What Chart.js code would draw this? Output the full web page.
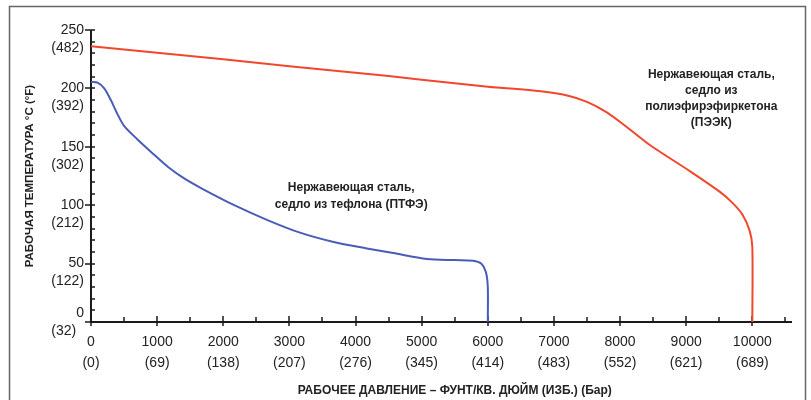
<!DOCTYPE html>
<html lang="ru">
<head>
<meta charset="utf-8">
<title>Рабочая температура / давление</title>
<script src="https://cdn.jsdelivr.net/npm/chart.js@4.4.1/dist/chart.umd.min.js"></script>
<style>
  html, body { margin: 0; padding: 0; background: #fff; }
  #wrap { width: 811px; height: 400px; position: relative; }
</style>
</head>
<body>
<div id="wrap"><canvas id="chart" width="811" height="400"></canvas></div>
<script>
// Stainless steel, PTFE seat (blue curve)
const teflonPsi  = [0, 100, 200, 300, 400, 500, 700, 920, 1170, 1420, 1670, 2150, 2660, 3160, 3670, 4170, 4570, 5080, 5500, 5780, 5900, 5970, 6000, 6000];
const teflonTemp = [205.5, 205, 200, 190, 178, 168, 156.5, 145, 132.5, 122.5, 114.5, 100.5, 87.5, 76.5, 68.5, 63, 59, 54, 53, 52.5, 50, 43, 30, 0];

// Stainless steel, PEEK seat (red curve)
const peekPsi  = [0, 1000, 2000, 3000, 4000, 5000, 6000, 6800, 7200, 7500, 7800, 8100, 8450, 9060, 9520, 9700, 9850, 9960, 10000, 10000];
const peekTemp = [236, 230.5, 225, 219, 213.5, 207.5, 201.5, 197.5, 194, 188.5, 179.5, 167, 151.5, 129, 111, 102, 92, 78, 64.5, 0];

// axis tick labels (major ticks); minor ticks sit halfway / every 10 °C
const xTickPsi = [0, 1000, 2000, 3000, 4000, 5000, 6000, 7000, 8000, 9000, 10000];
const xTickBar = [0, 69, 138, 207, 276, 345, 414, 483, 552, 621, 689];
const yTickC = [0, 50, 100, 150, 200, 250];
const yTickF = [32, 122, 212, 302, 392, 482];

const xTitle = 'РАБОЧЕЕ ДАВЛЕНИЕ – ФУНТ/КВ. ДЮЙМ (ИЗБ.) (Бар)';
const teflonNote = ['Нержавеющая сталь,', 'седло из тефлона (ПТФЭ)'];
const peekNote = ['Нержавеющая сталь,', 'седло из', 'полиэфирэфиркетона', '(ПЭЭК)'];

const FONT = "'Liberation Sans', Arial, Helvetica, sans-serif";
const INK = '#222';

function toPoints(xs, ys) {
  return xs.map((x, i) => ({ x: x, y: ys[i] }));
}

// outer frame, axis lines, tick marks and free text
const axesPlugin = {
  id: 'axesPlugin',
  beforeDraw(chart) {
    const ctx = chart.ctx;
    ctx.save();
    ctx.fillStyle = '#fff';
    ctx.fillRect(0, 0, chart.width, chart.height);
    ctx.strokeStyle = '#666';
    ctx.lineWidth = 1.5;
    ctx.strokeRect(9.5, 6.5, 796, 420);
    ctx.restore();
  },
  beforeDatasetsDraw(chart) {
    const { ctx, scales: { x, y } } = chart;
    const x0 = x.left, yb = y.bottom;
    ctx.save();
    ctx.strokeStyle = '#1a1a1a';
    ctx.lineWidth = 2;
    ctx.beginPath();
    ctx.moveTo(x0, y.top);
    ctx.lineTo(x0, yb);
    ctx.lineTo(x.right, yb);
    ctx.stroke();

    ctx.lineWidth = 1.5;
    ctx.beginPath();
    x.ticks.forEach(t => {
      const px = Math.round(x.getPixelForValue(t.value));
      const major = xTickPsi.includes(t.value);
      ctx.moveTo(px, yb - (major ? 6 : 5));
      ctx.lineTo(px, yb + (major ? 4 : 0));
    });
    y.ticks.forEach(t => {
      const py = Math.round(y.getPixelForValue(t.value));
      const major = yTickC.includes(t.value);
      ctx.moveTo(x0 - (major ? 6 : 0), py);
      ctx.lineTo(x0 + 4, py);
    });
    ctx.stroke();
    ctx.restore();
  },
  afterDraw(chart) {
    const { ctx, scales: { x, y } } = chart;
    ctx.save();
    ctx.fillStyle = INK;
    ctx.font = 'bold 12px ' + FONT;
    ctx.textAlign = 'center';
    ctx.textBaseline = 'middle';
    let cx = x.getPixelForValue(3935), cy = y.getPixelForValue(115);
    teflonNote.forEach((s, i) => ctx.fillText(s, cx, cy + i * 17.5));
    cx = x.getPixelForValue(9380); cy = y.getPixelForValue(211.5);
    peekNote.forEach((s, i) => ctx.fillText(s, cx, cy + i * 16));
    // pressure axis title sits a little right of the axis centre
    ctx.fillText(xTitle, x.getPixelForValue(5500), 391);
    ctx.restore();
  }
};

new Chart(document.getElementById('chart'), {
  type: 'line',
  data: {
    datasets: [{
      label: 'PTFE',
      data: toPoints(teflonPsi, teflonTemp),
      borderColor: '#4a5cb8',
      borderWidth: 2,
      pointRadius: 0,
      tension: 0.3,
      fill: false,
      clip: 4
    }, {
      label: 'PEEK',
      data: toPoints(peekPsi, peekTemp),
      borderColor: '#f0482c',
      borderWidth: 2,
      pointRadius: 0,
      tension: 0.3,
      fill: false,
      clip: 4
    }]
  },
  options: {
    responsive: false,
    animation: false,
    events: [],
    layout: { padding: { top: 30, right: 19, bottom: 0, left: 0 } },
    plugins: { legend: { display: false }, tooltip: { enabled: false } },
    scales: {
      x: {
        type: 'linear',
        min: 0,
        max: 10600,
        afterBuildTicks: scale => {
          // major tick every 1000 psi plus a minor one halfway
          scale.ticks = xTickPsi.flatMap(v => [{ value: v }, { value: v + 500 }]);
        },
        afterFit: scale => { scale.height = 78; },
        grid: { display: false, drawTicks: false },
        border: { display: false },
        ticks: {
          autoSkip: false,
          maxRotation: 0,
          minRotation: 0,
          padding: 10,
          color: INK,
          font: { family: FONT, size: 14, lineHeight: 1.46 },
          callback: value => {
            const i = xTickPsi.indexOf(value);
            return i < 0 ? '' : [String(xTickPsi[i]), '(' + xTickBar[i] + ')'];
          }
        },
        title: { display: false }
      },
      y: {
        min: 0,
        max: 250,
        afterBuildTicks: scale => {
          // labelled tick every 50 °C, four minor ticks between
          const out = [];
          yTickC.forEach(v => {
            out.push({ value: v });
            if (v < 250) [10, 20, 30, 40].forEach(d => out.push({ value: v + d }));
          });
          scale.ticks = out;
        },
        afterFit: scale => { scale.width = 91; },
        grid: { display: false, drawTicks: false },
        border: { display: false },
        ticks: {
          autoSkip: false,
          padding: 7,
          labelOffset: 9,
          color: INK,
          font: { family: FONT, size: 14, lineHeight: 1.2857 },
          callback: value => {
            const i = yTickC.indexOf(value);
            if (i < 0) return '';
            if (yTickC[i] === 0) return ['0', '(' + yTickF[i] + ')  ', ''];
            return [String(yTickC[i]), '(' + yTickF[i] + ')'];
          }
        },
        title: {
          display: true,
          text: 'РАБОЧАЯ ТЕМПЕРАТУРА °C (°F)',
          color: INK,
          font: { family: FONT, size: 11.5, weight: 'bold', lineHeight: 1.2 },
          padding: { top: 23, bottom: 0 }
        }
      }
    }
  },
  plugins: [axesPlugin]
});
</script>
</body>
</html>
